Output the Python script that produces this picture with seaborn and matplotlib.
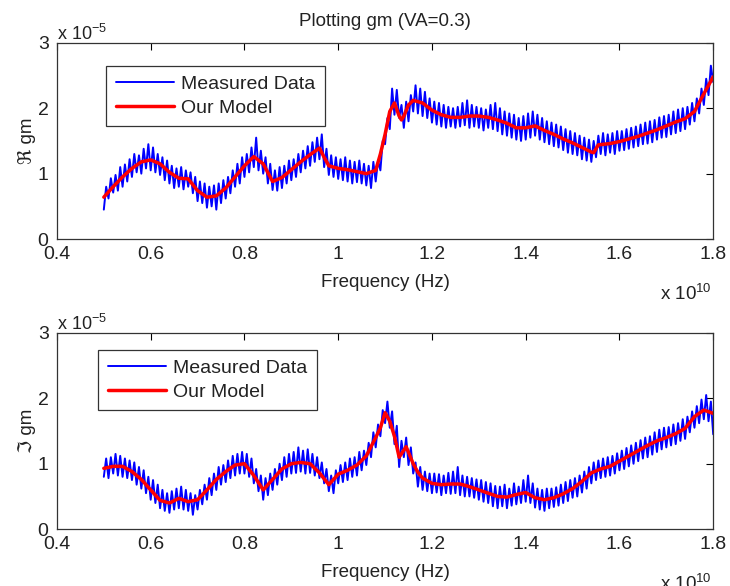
import numpy as np
import seaborn as sns
import matplotlib
matplotlib.use("Agg")
import matplotlib.pyplot as plt

# frequency in units of 1e10 Hz, gm in units of 1e-5
meas_freq = np.round(np.arange(0.5, 1.8001, 0.005), 3)

meas_re = [
    0.45, 0.80, 0.62, 0.93, 0.71, 0.98, 0.74, 1.10, 0.80, 1.14,
    0.88, 1.22, 0.95, 1.30, 1.02, 1.28, 1.00, 1.38, 1.08, 1.45,
    1.05, 1.40, 1.02, 1.30, 0.98, 1.25, 0.90, 1.20, 0.85, 1.12,
    0.78, 1.08, 0.80, 1.10, 0.76, 1.05, 0.80, 1.02, 0.70, 0.95,
    0.58, 0.88, 0.55, 0.85, 0.48, 0.80, 0.50, 0.82, 0.45, 0.85,
    0.55, 0.90, 0.62, 0.95, 0.70, 1.05, 0.80, 1.15, 0.85, 1.25,
    0.95, 1.30, 1.02, 1.40, 1.10, 1.55, 1.05, 1.35, 1.00, 1.25,
    0.85, 1.15, 0.75, 1.05, 0.74, 1.10, 0.78, 1.12, 0.85, 1.20,
    0.90, 1.22, 0.95, 1.30, 1.02, 1.35, 1.08, 1.42, 1.12, 1.48,
    1.18, 1.55, 1.22, 1.60, 1.10, 1.38, 0.98, 1.28, 0.95, 1.25,
    0.92, 1.22, 0.90, 1.25, 0.88, 1.20, 0.85, 1.18, 0.87, 1.20,
    0.85, 1.15, 0.82, 1.12, 0.78, 1.18, 0.88, 1.20, 1.05, 1.50,
    1.45, 1.85, 1.68, 2.30, 1.90, 2.28, 1.85, 2.05, 1.70, 2.10,
    1.80, 2.20, 1.95, 2.35, 1.92, 2.30, 1.88, 2.25, 1.85, 2.15,
    1.78, 2.10, 1.75, 2.08, 1.72, 2.05, 1.70, 2.02, 1.72, 2.00,
    1.70, 2.02, 1.72, 2.08, 1.74, 2.12, 1.70, 2.05, 1.72, 2.02,
    1.70, 2.00, 1.66, 1.98, 1.70, 2.05, 1.68, 2.08, 1.65, 2.00,
    1.60, 1.95, 1.58, 1.92, 1.55, 1.90, 1.52, 1.85, 1.50, 1.88,
    1.52, 1.92, 1.55, 1.95, 1.58, 1.90, 1.52, 1.85, 1.48, 1.80,
    1.45, 1.78, 1.42, 1.75, 1.40, 1.72, 1.36, 1.68, 1.32, 1.65,
    1.30, 1.62, 1.28, 1.58, 1.22, 1.55, 1.20, 1.52, 1.18, 1.50,
    1.25, 1.58, 1.30, 1.62, 1.28, 1.60, 1.32, 1.62, 1.30, 1.65,
    1.35, 1.65, 1.36, 1.68, 1.38, 1.70, 1.40, 1.72, 1.42, 1.75,
    1.45, 1.78, 1.46, 1.80, 1.48, 1.82, 1.52, 1.86, 1.55, 1.88,
    1.56, 1.90, 1.60, 1.95, 1.62, 1.98, 1.65, 2.00, 1.68, 2.02,
    1.75, 2.08, 1.80, 2.15, 1.92, 2.30, 2.05, 2.45, 2.20, 2.65,
    2.40,
]

meas_im = [
    0.80, 1.08, 0.78, 1.10, 0.85, 1.15, 0.82, 1.12, 0.80, 1.08,
    0.78, 1.05, 0.75, 1.02, 0.68, 0.95, 0.62, 0.90, 0.55, 0.80,
    0.45, 0.75, 0.40, 0.68, 0.32, 0.60, 0.28, 0.55, 0.25, 0.58,
    0.30, 0.62, 0.32, 0.65, 0.30, 0.60, 0.28, 0.55, 0.22, 0.52,
    0.30, 0.60, 0.38, 0.68, 0.45, 0.78, 0.52, 0.85, 0.60, 0.95,
    0.68, 0.98, 0.72, 1.05, 0.78, 1.12, 0.82, 1.15, 0.85, 1.18,
    0.85, 1.15, 0.80, 1.08, 0.70, 0.92, 0.58, 0.82, 0.45, 0.78,
    0.52, 0.85, 0.60, 0.92, 0.68, 1.00, 0.75, 1.10, 0.80, 1.15,
    0.85, 1.18, 0.86, 1.25, 0.88, 1.20, 0.85, 1.22, 0.86, 1.15,
    0.82, 1.10, 0.78, 1.02, 0.70, 0.92, 0.58, 0.82, 0.55, 0.90,
    0.70, 0.98, 0.72, 1.02, 0.75, 1.08, 0.80, 1.10, 0.82, 1.18,
    0.90, 1.20, 0.98, 1.32, 1.10, 1.48, 1.25, 1.60, 1.42, 1.82,
    1.62, 1.95, 1.55, 1.80, 1.30, 1.58, 0.95, 1.35, 1.10, 1.40,
    0.98, 1.25, 0.85, 1.02, 0.65, 0.95, 0.60, 0.88, 0.58, 0.85,
    0.55, 0.85, 0.56, 0.84, 0.52, 0.82, 0.55, 0.86, 0.54, 0.88,
    0.55, 0.95, 0.52, 0.82, 0.50, 0.80, 0.50, 0.78, 0.48, 0.76,
    0.45, 0.75, 0.42, 0.72, 0.40, 0.70, 0.35, 0.66, 0.32, 0.65,
    0.35, 0.68, 0.32, 0.62, 0.36, 0.70, 0.38, 0.65, 0.40, 0.75,
    0.42, 0.82, 0.40, 0.70, 0.33, 0.62, 0.30, 0.60, 0.28, 0.62,
    0.32, 0.62, 0.34, 0.64, 0.36, 0.68, 0.40, 0.72, 0.43, 0.75,
    0.48, 0.78, 0.50, 0.82, 0.56, 0.88, 0.62, 0.95, 0.70, 1.02,
    0.75, 1.05, 0.78, 1.08, 0.80, 1.10, 0.82, 1.12, 0.85, 1.16,
    0.90, 1.20, 0.92, 1.24, 0.96, 1.28, 1.00, 1.32, 1.04, 1.36,
    1.08, 1.40, 1.10, 1.42, 1.14, 1.48, 1.18, 1.52, 1.22, 1.55,
    1.25, 1.56, 1.28, 1.60, 1.30, 1.62, 1.35, 1.68, 1.38, 1.72,
    1.48, 1.80, 1.55, 1.88, 1.62, 1.98, 1.68, 2.05, 1.65, 1.95,
    1.45,
]

model_re_freq = [0.50, 0.52, 0.54, 0.56, 0.58, 0.60, 0.62, 0.64, 0.66, 0.68,
                 0.70, 0.72, 0.74, 0.76, 0.78, 0.80, 0.82, 0.84, 0.86, 0.88,
                 0.90, 0.92, 0.94, 0.96, 0.97, 0.98, 1.00, 1.02, 1.04, 1.06,
                 1.08, 1.09, 1.10, 1.11, 1.12, 1.13, 1.135, 1.14, 1.15, 1.16,
                 1.18, 1.20, 1.22, 1.24, 1.26, 1.28, 1.30, 1.32, 1.34, 1.36,
                 1.38, 1.40, 1.42, 1.44, 1.46, 1.48, 1.50, 1.52, 1.54, 1.545,
                 1.555, 1.58, 1.60, 1.62, 1.64, 1.66, 1.68, 1.70, 1.72, 1.74,
                 1.76, 1.78, 1.80]
model_re = [0.64, 0.80, 0.95, 1.08, 1.18, 1.21, 1.15, 1.02, 0.93, 0.92,
            0.74, 0.64, 0.66, 0.78, 0.95, 1.12, 1.26, 1.15, 0.88, 0.94,
            1.06, 1.18, 1.29, 1.39, 1.25, 1.12, 1.08, 1.06, 1.03, 1.00,
            1.05, 1.30, 1.60, 1.95, 2.08, 1.88, 1.82, 1.88, 2.05, 2.12,
            2.08, 1.97, 1.90, 1.86, 1.86, 1.88, 1.88, 1.86, 1.82, 1.77,
            1.70, 1.70, 1.73, 1.66, 1.60, 1.53, 1.47, 1.40, 1.33, 1.32,
            1.44, 1.46, 1.49, 1.53, 1.57, 1.62, 1.67, 1.73, 1.79, 1.84,
            1.95, 2.22, 2.48]

model_im_freq = [0.50, 0.52, 0.54, 0.56, 0.58, 0.60, 0.62, 0.64, 0.66, 0.68,
                 0.70, 0.72, 0.74, 0.76, 0.78, 0.80, 0.82, 0.84, 0.86, 0.88,
                 0.90, 0.92, 0.94, 0.96, 0.98, 1.00, 1.02, 1.04, 1.06, 1.08,
                 1.09, 1.10, 1.11, 1.12, 1.13, 1.145, 1.16, 1.17, 1.18, 1.20,
                 1.22, 1.24, 1.26, 1.28, 1.30, 1.32, 1.34, 1.36, 1.38, 1.40,
                 1.42, 1.44, 1.46, 1.48, 1.50, 1.52, 1.54, 1.56, 1.58, 1.60,
                 1.62, 1.64, 1.66, 1.68, 1.70, 1.72, 1.74, 1.76, 1.78, 1.80]
model_im = [0.93, 0.96, 0.96, 0.88, 0.76, 0.60, 0.44, 0.40, 0.47, 0.42,
            0.45, 0.60, 0.76, 0.88, 0.98, 1.00, 0.82, 0.60, 0.76, 0.92,
            1.00, 1.02, 1.00, 0.86, 0.68, 0.84, 0.90, 0.98, 1.12, 1.40,
            1.55, 1.78, 1.65, 1.42, 1.10, 1.26, 1.00, 0.87, 0.78, 0.70,
            0.68, 0.69, 0.69, 0.65, 0.60, 0.55, 0.50, 0.49, 0.53, 0.56,
            0.48, 0.45, 0.48, 0.54, 0.62, 0.73, 0.86, 0.92, 0.96, 1.04,
            1.12, 1.20, 1.28, 1.35, 1.40, 1.46, 1.54, 1.72, 1.82, 1.77]

x_ticks = [0.4, 0.6, 0.8, 1.0, 1.2, 1.4, 1.6, 1.8]
x_tick_labels = ["0.4", "0.6", "0.8", "1", "1.2", "1.4", "1.6", "1.8"]
y_ticks = [0, 1, 2, 3]

sns.set_style("white")
plt.rcParams['font.family'] = ['Liberation Sans', 'DejaVu Sans']
plt.rcParams['mathtext.fontset'] = 'custom'
plt.rcParams['mathtext.rm'] = 'Liberation Sans'
plt.rcParams['mathtext.it'] = 'Liberation Sans'

fig, axes = plt.subplots(2, 1, figsize=(7.3, 5.86), dpi=100)
fig.subplots_adjust(left=0.078, right=0.977, top=0.927, bottom=0.097, hspace=0.478)

panels = [(meas_re, model_re_freq, model_re, "\u211c gm", (0.075, 0.883)),
          (meas_im, model_im_freq, model_im, "\u2111 gm", (0.0625, 0.913))]

for ax, (meas, mf, mv, ylab, lpos) in zip(axes, panels):
    sns.lineplot(x=meas_freq, y=meas, color=(0, 0, 1), lw=1.4, ax=ax,
                 label="Measured Data", estimator=None, sort=False)
    sns.lineplot(x=mf, y=mv, color=(1, 0, 0), lw=2.5, ax=ax,
                 label="Our Model", estimator=None)
    ax.set_xlim(0.4, 1.8)
    ax.set_ylim(0, 3)
    ax.set_xticks(x_ticks)
    ax.set_xticklabels(x_tick_labels)
    ax.set_yticks(y_ticks)
    ax.tick_params(direction='in', top=True, right=True, length=5, width=0.8,
                   labelsize=14, colors='black', labelcolor='#222222')
    ax.tick_params(axis='x', pad=5)
    ax.tick_params(axis='y', pad=6)
    for sp in ax.spines.values():
        sp.set_visible(True)
        sp.set_color('#333333')
        sp.set_linewidth(0.9)
    ax.set_xlabel("Frequency (Hz)", fontsize=13.5, color='#222222', labelpad=8)
    ax.set_ylabel(ylab, fontsize=13.5, color='#222222', labelpad=1)
    ax.text(0.0, 0.995, r"x 10$^{-5}$", transform=ax.transAxes, fontsize=13,
            color='#222222', ha='left', va='bottom')
    ax.text(0.997, -0.23, r"x 10$^{10}$", transform=ax.transAxes, fontsize=13.5,
            color='#222222', ha='right', va='top')
    leg = ax.legend(loc='upper left', bbox_to_anchor=lpos, fontsize=14,
                    frameon=True, fancybox=False, edgecolor='black',
                    handlelength=3.0, handletextpad=0.35, borderpad=0.5,
                    labelspacing=0.3, borderaxespad=0)
    leg.get_frame().set_linewidth(0.9)
    for t in leg.get_texts():
        t.set_color('#222222')

axes[0].set_title("Plotting gm (VA=0.3)", fontsize=13.5, color='#222222', pad=12)

fig.savefig("out.png", dpi=100, facecolor='white')
